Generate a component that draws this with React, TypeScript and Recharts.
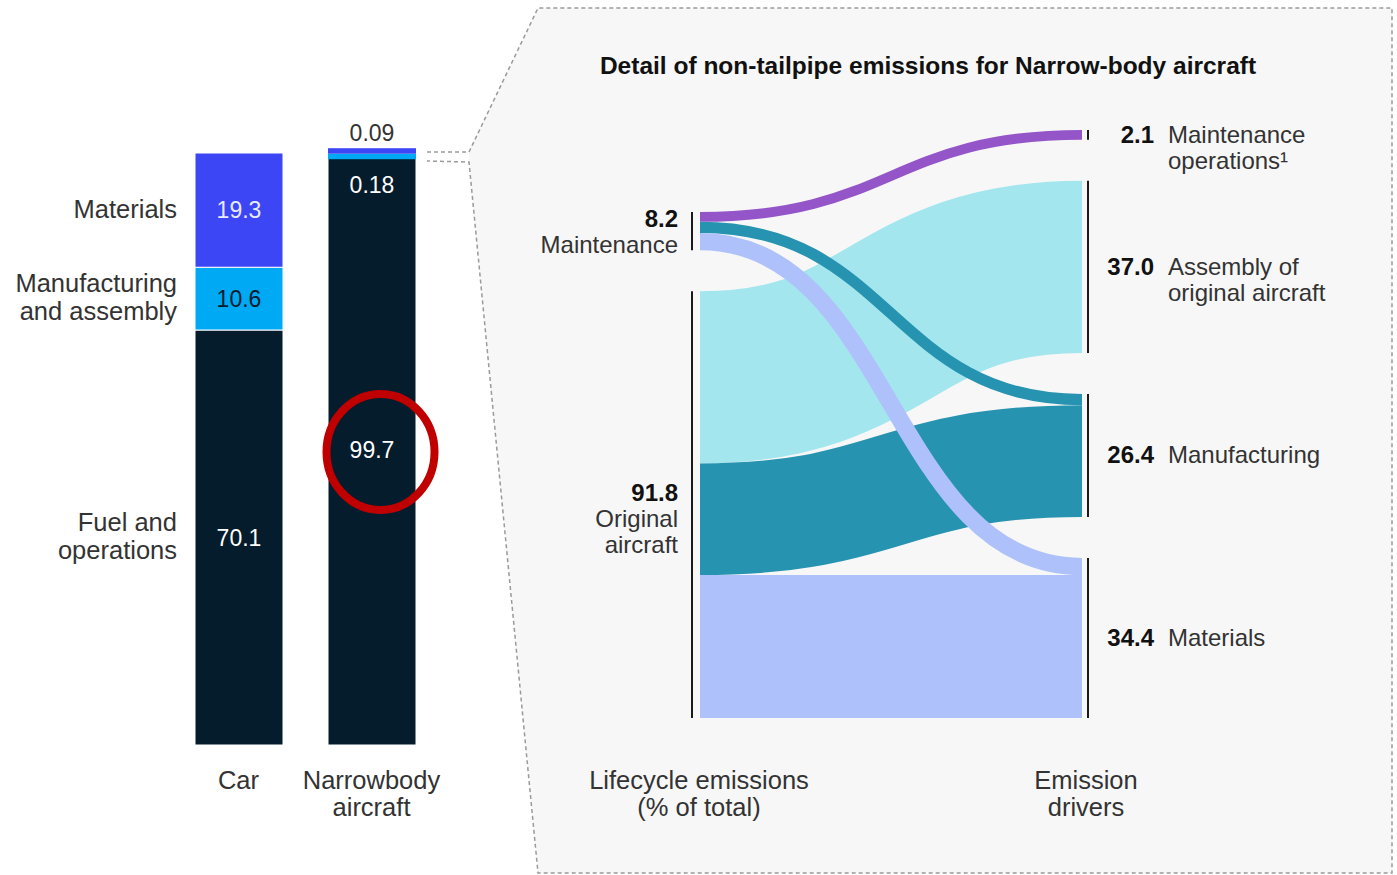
import React from 'react'
import { BarChart, Bar, XAxis, YAxis, LabelList, ReferenceDot, Sankey } from 'recharts'

const FONT = '"Liberation Sans", Arial, Helvetica, sans-serif'
const TEXT = '#333333'
const INK = '#111111'

// left: lifecycle emissions, % of total
const VEHICLES = ['Car', 'Narrowbody aircraft']
const VEHICLE_LINES = [['Car'], ['Narrowbody', 'aircraft']]
const FUEL_OPS = [70.1, 99.7]
const MANUF_ASSEMBLY = [10.6, 0.18]
const MATERIALS = [19.3, 0.09]
const FUEL_NAME = ['Fuel and', 'operations']
const MANUF_NAME = ['Manufacturing', 'and assembly']
const MATERIALS_NAME = ['Materials']

// right: non-tailpipe emissions of narrow-body aircraft
const NODE_NAMES = [
  'Maintenance', 'Original aircraft', 'Maintenance operations',
  'Assembly of original aircraft', 'Manufacturing', 'Materials',
]
const NODE_LINES = [
  ['Maintenance'], ['Original', 'aircraft'], ['Maintenance', 'operations¹'],
  ['Assembly of', 'original aircraft'], ['Manufacturing'], ['Materials'],
]
const NODE_VALUE_LABELS = ['8.2', '91.8', '2.1', '37.0', '26.4', '34.4']
const LINK_SOURCE = [1, 1, 1, 0, 0, 0]
const LINK_TARGET = [3, 4, 5, 2, 4, 5]
const LINK_VALUE = [37.0, 24.0, 30.7, 2.1, 2.4, 3.7]
const LINK_COLOR = ['#A3E6EE', '#2693B0', '#AFC1FB', '#9455C8', '#2693B0', '#AFC1FB']

const barData = VEHICLES.map((name, i) => ({
  name,
  fuel: FUEL_OPS[i],
  manuf: MANUF_ASSEMBLY[i],
  materials: MATERIALS[i],
}))

const sankeyData = {
  nodes: NODE_NAMES.map((name) => ({ name })),
  links: LINK_VALUE.map((value, i) => ({ source: LINK_SOURCE[i], target: LINK_TARGET[i], value })),
}

// tiny segments get a minimum visible stripe
const MIN_STRIPE = 5.5

const StripeDown = (p: any) => {
  const small = p.height < MIN_STRIPE
  return (
    <rect x={p.x} y={p.y} width={p.width} height={small ? MIN_STRIPE : p.height}
      fill={p.fill} stroke={small ? 'none' : '#ffffff'} strokeWidth={1} />
  )
}

const StripeUp = (p: any) => {
  const small = p.height < MIN_STRIPE
  return (
    <rect x={p.x} y={small ? p.y + p.height - MIN_STRIPE : p.y} width={p.width}
      height={small ? MIN_STRIPE : p.height}
      fill={p.fill} stroke={small ? 'none' : '#ffffff'} strokeWidth={1} />
  )
}

function box(p: any) {
  const vb = p.viewBox ?? p
  return { x: vb.x ?? p.x, y: vb.y ?? p.y, w: vb.width ?? p.width, h: vb.height ?? p.height }
}

// labels for one stacked segment; category name drawn beside the Car bar
function segmentLabel(names: string[], color: string, kind: 'fuel' | 'manuf' | 'materials') {
  return (p: any) => {
    const { x, y, w, h } = box(p)
    const cx = x + w / 2
    const cy = y + h / 2
    const isCar = p.index === 0 || (p.index === undefined && Number(p.value) > 1)
    if (!isCar) {
      if (kind === 'manuf') {
        return (
          <text x={cx} y={y + h + 38} textAnchor="middle" fill="#ffffff" fontSize={23} fontFamily={FONT}>
            {p.value}
          </text>
        )
      }
      if (kind === 'materials') {
        return (
          <text x={cx} y={y - 12} textAnchor="middle" fill={TEXT} fontSize={23} fontFamily={FONT}>
            {p.value}
          </text>
        )
      }
    }
    const first = names.length === 1 ? cy + 8 : cy - 7
    return (
      <g>
        <text x={cx} y={cy + 8} textAnchor="middle" fill={color} fontSize={23} fontFamily={FONT}>
          {p.value}
        </text>
        {isCar && (
          <text x={x - 18} y={first} textAnchor="end" fill={TEXT} fontSize={25.5} fontFamily={FONT}>
            {names.map((l, k) => (
              <tspan key={l} x={x - 18} y={first + k * 28}>{l}</tspan>
            ))}
          </text>
        )}
      </g>
    )
  }
}

const VehicleTick = (props: any) => {
  const { x, y, payload } = props
  const lines = VEHICLE_LINES[VEHICLES.indexOf(payload.value)] ?? [payload.value]
  return (
    <text x={x} y={y} textAnchor="middle" fill={TEXT} fontSize={25.5} fontFamily={FONT}>
      {lines.map((l, k) => (
        <tspan key={l} x={x} y={y + 36 + k * 27}>{l}</tspan>
      ))}
    </text>
  )
}

const SankeyNode = (props: any) => {
  const { x, y, width, height, index, payload } = props
  const left = payload?.depth === 0 || (payload?.depth === undefined && index < 2)
  const cy = y + height / 2
  const lines = NODE_LINES[index]
  if (left) {
    const tx = x - 14
    return (
      <g fontFamily={FONT}>
        <line x1={x} x2={x} y1={y} y2={y + height} stroke="#1a1a1a" strokeWidth={2} />
        <text x={tx} y={cy - 4} textAnchor="end" fontWeight="bold" fontSize={24} fill={INK}>
          {NODE_VALUE_LABELS[index]}
        </text>
        {lines.map((l, k) => (
          <text key={l} x={tx} y={cy + 22 + k * 26} textAnchor="end" fontSize={24} fill={TEXT}>{l}</text>
        ))}
      </g>
    )
  }
  return (
    <g fontFamily={FONT}>
      <line x1={x + width - 2} x2={x + width - 2} y1={y} y2={y + height} stroke="#1a1a1a" strokeWidth={2} />
      <text x={x + 72} y={cy + 8} textAnchor="end" fontWeight="bold" fontSize={24} fill={INK}>
        {NODE_VALUE_LABELS[index]}
      </text>
      {lines.map((l, k) => (
        <text key={l} x={x + 86} y={cy + 8 + k * 26} fontSize={24} fill={TEXT}>{l}</text>
      ))}
    </g>
  )
}

const SankeyLink = (props: any) => {
  const { sourceX, targetX, sourceY, targetY, sourceControlX, targetControlX, linkWidth, index } = props
  return (
    <path
      d={`M${sourceX},${sourceY} C${sourceControlX},${sourceY} ${targetControlX},${targetY} ${targetX},${targetY}`}
      fill="none"
      stroke={LINK_COLOR[index]}
      strokeWidth={linkWidth}
    />
  )
}

const Circle = (props: any) => (
  <ellipse cx={props.cx + 9} cy={props.cy} rx={54} ry={58} fill="none" stroke="#C00000" strokeWidth={8} />
)

export default function App() {
  return (
    <div style={{ position: 'absolute', left: 0, top: 0, width: 1397, height: 875, background: '#ffffff', fontFamily: FONT }}>
      <svg width={1397} height={875} style={{ position: 'absolute', left: 0, top: 0 }}>
        <polygon points="469,152 538,8 1392,8 1392,873 538,873 469,162" fill="#F7F7F7" />
        <path
          d="M427,152 L469,152 L538,8 L1392,8 L1392,873 L538,873 L469,162 L427,161"
          fill="none"
          stroke="#9a9a9a"
          strokeWidth={1.5}
          strokeDasharray="4 3"
        />
        <text x={928} y={74} textAnchor="middle" fontWeight="bold" fontSize={24.5} fill={INK} fontFamily={FONT}>
          Detail of non-tailpipe emissions for Narrow-body aircraft
        </text>
        <text textAnchor="middle" fontSize={25.5} fill={TEXT} fontFamily={FONT}>
          <tspan x={699} y={789}>Lifecycle emissions</tspan>
          <tspan x={699} y={816}>(% of total)</tspan>
        </text>
        <text textAnchor="middle" fontSize={25.5} fill={TEXT} fontFamily={FONT}>
          <tspan x={1086} y={789}>Emission</tspan>
          <tspan x={1086} y={816}>drivers</tspan>
        </text>
      </svg>

      <div style={{ position: 'absolute', left: 0, top: 0 }}>
        <BarChart width={470} height={875} data={barData} margin={{ top: 153, right: 32, left: 172, bottom: 70 }} barSize={88}>
          <XAxis dataKey="name" axisLine={false} tickLine={false} tick={<VehicleTick />} height={60} interval={0} />
          <YAxis hide domain={[0, 100]} />
          <Bar dataKey="fuel" stackId="a" fill="#051C2C" stroke="#ffffff" strokeWidth={1} isAnimationActive={false}>
            <LabelList dataKey="fuel" content={segmentLabel(FUEL_NAME, '#ffffff', 'fuel')} />
          </Bar>
          <Bar dataKey="manuf" stackId="a" fill="#00A9F4" shape={<StripeDown />} isAnimationActive={false}>
            <LabelList dataKey="manuf" content={segmentLabel(MANUF_NAME, '#051C2C', 'manuf')} />
          </Bar>
          <Bar dataKey="materials" stackId="a" fill="#3C46F5" shape={<StripeUp />} isAnimationActive={false}>
            <LabelList dataKey="materials" content={segmentLabel(MATERIALS_NAME, '#E8EAFF', 'materials')} />
          </Bar>
          <ReferenceDot x="Narrowbody aircraft" y={49.5} r={58} shape={<Circle />} />
        </BarChart>
      </div>

      <div style={{ position: 'absolute', left: 0, top: 0 }}>
        <Sankey
          width={1397}
          height={875}
          data={sankeyData}
          margin={{ top: 130, bottom: 157, left: 692, right: 307 }}
          nodeWidth={8}
          nodePadding={41}
          iterations={32}
          sort={false}
          node={<SankeyNode />}
          link={<SankeyLink />}
        />
      </div>
    </div>
  )
}
